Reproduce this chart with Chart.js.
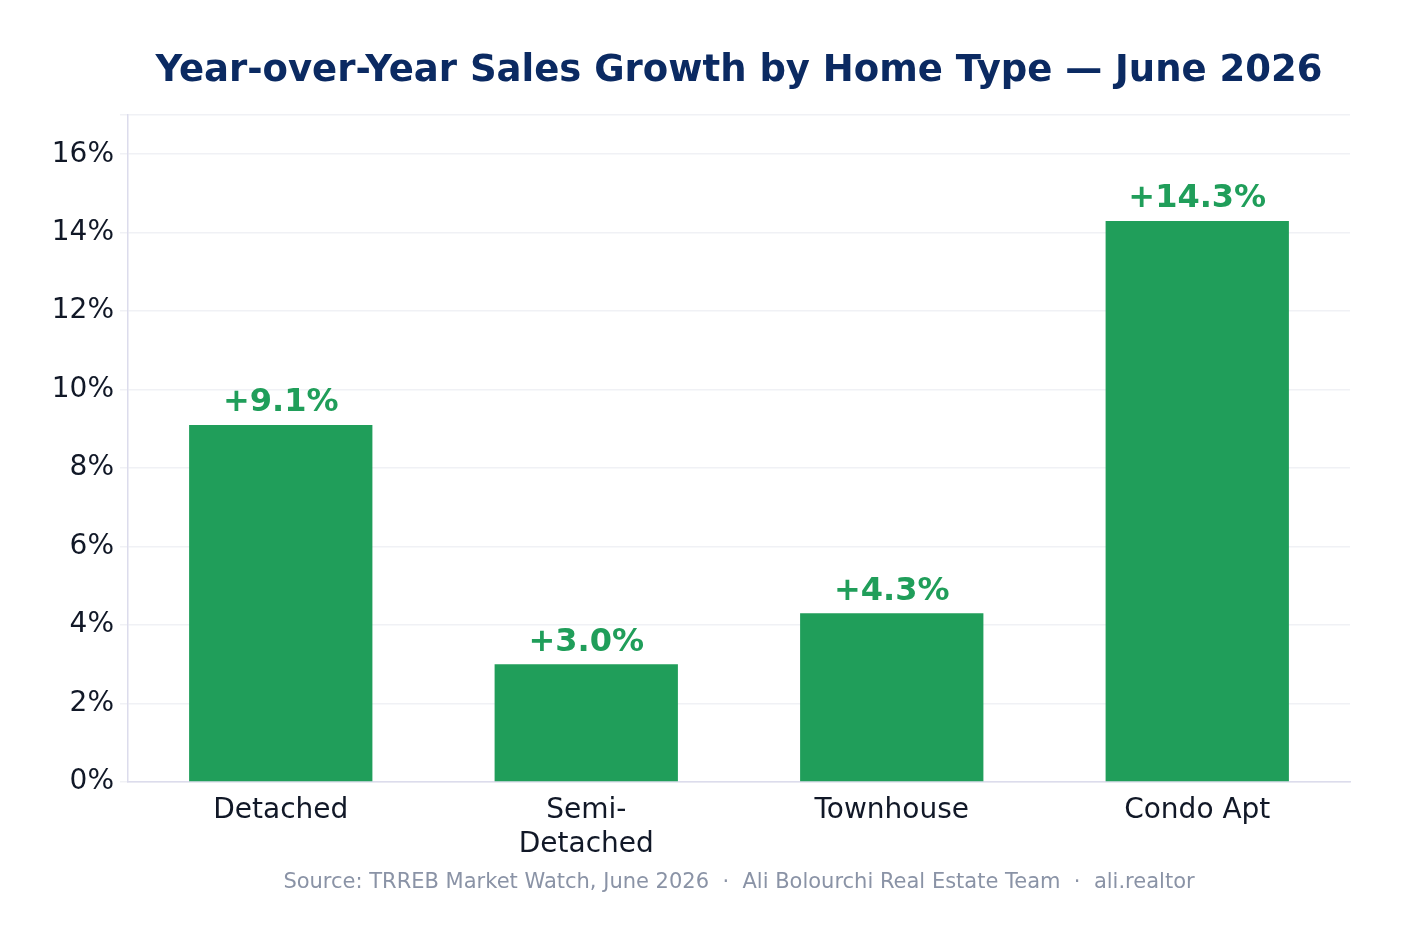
<!DOCTYPE html>
<html>
<head>
<meta charset="utf-8">
<script src="https://cdn.jsdelivr.net/npm/chart.js@4.4.1/dist/chart.umd.min.js"></script>
<style>
  html, body { margin: 0; padding: 0; background: #fff; }
  #wrap { width: 1417px; height: 947px; }
</style>
</head>
<body>
<div id="wrap"><canvas id="growthChart"></canvas></div>
<script>
const labels = ['Detached', ['Semi-', 'Detached'], 'Townhouse', 'Condo Apt'];
const growth = [9.1, 3.0, 4.3, 14.3];
const green = '#209e5a';
const font = 'DejaVu Sans, sans-serif';

// title, source line and value labels
const decorations = {
    id: 'decorations',
    afterDatasetsDraw(chart) {
        const { ctx, chartArea } = chart;
        ctx.save();
        ctx.textAlign = 'center';
        ctx.textBaseline = 'middle';
        ctx.fillStyle = '#0b2a62';
        ctx.font = 'bold 37px ' + font;
        ctx.fillText('Year-over-Year Sales Growth by Home Type — June 2026', (chartArea.left + chartArea.right) / 2, 71);

        ctx.fillStyle = '#8a93a6';
        ctx.font = '21px ' + font;
        ctx.fillText('Source: TRREB Market Watch, June 2026  ·  Ali Bolourchi Real Estate Team  ·  ali.realtor', (chartArea.left + chartArea.right) / 2, 883);

        const meta = chart.getDatasetMeta(0);
        ctx.fillStyle = green;
        ctx.font = 'bold 32px ' + font;
        ctx.textBaseline = 'bottom';
        meta.data.forEach((bar, i) => {
            ctx.fillText('+' + growth[i].toFixed(1) + '%', bar.x, bar.y - 6);
        });
        ctx.restore();
    }
};

new Chart(document.getElementById('growthChart'), {
    type: 'bar',
    data: {
        labels: labels,
        datasets: [{
            data: growth,
            backgroundColor: green,
            barPercentage: 0.6,
            categoryPercentage: 1.0
        }]
    },
    options: {
        responsive: true,
        maintainAspectRatio: false,
        animation: false,
        layout: { padding: { top: 115, right: 67, left: 0, bottom: 0 } },
        plugins: {
            legend: { display: false },
            tooltip: { enabled: false }
        },
        scales: {
            x: {
                grid: { display: false },
                border: { color: '#dcdcec', width: 1.5 },
                ticks: { color: '#111827', font: { family: font, size: 28 }, padding: 4 },
                afterFit(scale) { scale.height = 165; }
            },
            y: {
                min: 0,
                max: 17,
                border: { color: '#dcdcec', width: 1.5 },
                grid: { color: '#f0f1f5', lineWidth: 1.5 },
                ticks: {
                    stepSize: 2,
                    color: '#111827',
                    font: { family: font, size: 28 },
                    padding: 6,
                    callback: v => v % 2 === 0 ? v + '%' : ''
                },
                afterFit(scale) { scale.width = 128; }
            }
        }
    },
    plugins: [decorations]
});
</script>
</body>
</html>
